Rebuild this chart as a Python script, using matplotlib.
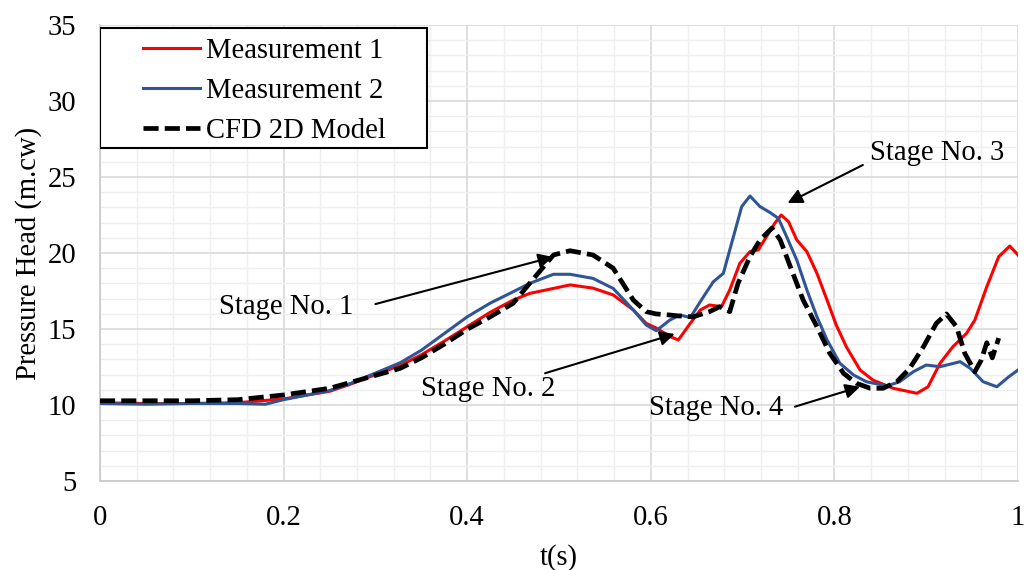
import matplotlib
matplotlib.use('Agg')
import matplotlib.pyplot as plt
from matplotlib.patches import Rectangle
from matplotlib.ticker import MultipleLocator

plt.rcParams['font.family'] = ['Liberation Serif', 'DejaVu Serif']

# Measurement 1 (red)
t_m1 = [0, 0.05, 0.1, 0.15, 0.2, 0.25, 0.272, 0.3, 0.327, 0.35, 0.375, 0.4, 0.425,
        0.45, 0.468, 0.494, 0.512, 0.537, 0.559, 0.581, 0.595, 0.606, 0.621, 0.630,
        0.643, 0.654, 0.664, 0.677, 0.686, 0.697, 0.708, 0.717, 0.726, 0.735, 0.742,
        0.75, 0.759, 0.77, 0.781, 0.792, 0.802, 0.813, 0.828, 0.842, 0.864, 0.89,
        0.902, 0.915, 0.929, 0.944, 0.953, 0.966, 0.979, 0.991, 1.0]
p_m1 = [10.15, 10.1, 10.1, 10.15, 10.4, 10.9, 11.35, 12.0, 12.6, 13.3, 14.2, 15.15, 16.1,
        16.9, 17.34, 17.67, 17.9, 17.69, 17.24, 16.25, 15.37, 15.06, 14.5, 14.28,
        15.37, 16.25, 16.58, 16.47, 17.57, 19.32, 20.09, 20.2, 21.07, 21.95, 22.5,
        22.06, 20.86, 20.09, 18.66, 16.9, 15.26, 13.83, 12.3, 11.64, 11.1, 10.77,
        11.2, 12.74, 13.83, 14.72, 15.59, 17.78, 19.76, 20.46, 19.87]

# Measurement 2 (blue)
t_m2 = [0, 0.05, 0.1, 0.15, 0.18, 0.2, 0.25, 0.272, 0.3, 0.327, 0.35, 0.375, 0.4, 0.425,
        0.45, 0.468, 0.494, 0.512, 0.537, 0.559, 0.581, 0.595, 0.606, 0.621, 0.632,
        0.643, 0.655, 0.668, 0.679, 0.69, 0.699, 0.708, 0.719, 0.73, 0.739, 0.748,
        0.759, 0.77, 0.781, 0.792, 0.806, 0.821, 0.835, 0.857, 0.871, 0.886, 0.9,
        0.915, 0.937, 0.948, 0.962, 0.977, 0.99, 1.0]
p_m2 = [10.1, 10.05, 10.1, 10.1, 10.05, 10.35, 10.95, 11.4, 12.1, 12.78, 13.6, 14.7, 15.8, 16.7,
        17.45, 18.0, 18.6, 18.6, 18.33, 17.67, 16.25, 15.26, 14.89, 15.6, 15.92,
        15.75, 16.9, 18.1, 18.66, 21.07, 23.05, 23.75, 23.05, 22.66, 22.28, 21.07,
        19.54, 17.57, 15.8, 14.28, 12.74, 11.97, 11.53, 11.25, 11.53, 12.19, 12.63,
        12.52, 12.85, 12.41, 11.53, 11.2, 11.86, 12.3]

# CFD 2D model (dashed)
t_cfd = [0, 0.1, 0.15, 0.2, 0.25, 0.272, 0.3, 0.327, 0.35, 0.375, 0.4, 0.425, 0.45,
         0.468, 0.494, 0.512, 0.537, 0.559, 0.581, 0.595, 0.606, 0.621, 0.630, 0.646,
         0.664, 0.675, 0.686, 0.695, 0.708, 0.719, 0.732, 0.741, 0.752, 0.766, 0.781,
         0.795, 0.81, 0.824, 0.839, 0.853, 0.868, 0.882, 0.897, 0.911, 0.922, 0.933,
         0.942, 0.953, 0.96, 0.966, 0.972, 0.979]
p_cfd = [10.28, 10.28, 10.35, 10.66, 11.1, 11.47, 11.95, 12.41, 13.1, 14.0, 14.98, 15.8, 16.69,
         18.0, 19.87, 20.15, 19.87, 19.0, 16.9, 16.14, 15.99, 15.92, 15.86, 15.8,
         16.14, 16.47, 16.14, 18.0, 19.76, 20.86, 21.64, 20.86, 19.1, 16.9, 15.15,
         13.4, 12.08, 11.43, 11.1, 11.1, 11.53, 12.41, 13.83, 15.37, 15.99, 15.15,
         13.4, 12.19, 12.96, 14.1, 13.1, 14.4]

# annotations: label, text position, arrow start, arrow tip
stages = [
    ("Stage No. 1", (0.203, 16.45), (0.300, 16.64), (0.4935, 19.74)),
    ("Stage No. 2", (0.4227, 11.05), (0.4848, 12.09), (0.626, 14.67)),
    ("Stage No. 3", (0.912, 26.58), (0.831, 25.79), (0.749, 23.29)),
    ("Stage No. 4", (0.671, 9.80), (0.757, 9.89), (0.828, 11.2)),
]

FS = 20.6

fig = plt.figure(figsize=(10.33, 5.70), dpi=100)
ax = fig.add_axes([100/1033, 89/570, 918/1033, 456/570])

ax.plot(t_m1, p_m1, color='#FF0000', lw=2.2, label='Measurement 1', zorder=3)
ax.plot(t_m2, p_m2, color='#2F5597', lw=2.2, label='Measurement 2', zorder=3)
ax.plot(t_cfd, p_cfd, color='black', lw=3.4, dashes=(3.2, 1.3), label='CFD 2D Model', zorder=4)

ax.set_xlim(0, 1)
ax.set_ylim(5, 35)
ax.xaxis.set_major_locator(MultipleLocator(0.2))
ax.xaxis.set_minor_locator(MultipleLocator(0.04))
ax.yaxis.set_major_locator(MultipleLocator(5))
ax.yaxis.set_minor_locator(MultipleLocator(1))
ax.set_xticks([0, 0.2, 0.4, 0.6, 0.8, 1.0], ['0', '0.2', '0.4', '0.6', '0.8', '1'])
ax.grid(which='major', color='#D9D9D9', lw=1.2, zorder=0)
ax.grid(which='minor', color='#EFEFEF', lw=1.0, zorder=0)
ax.set_axisbelow(True)
ax.tick_params(which='both', length=0, labelsize=FS)
ax.tick_params(axis='x', pad=17)
ax.tick_params(axis='y', pad=17)
for s in ['top', 'right']:
    ax.spines[s].set_visible(False)
for s in ['left', 'bottom']:
    ax.spines[s].set_color('#C8C8C8')
    ax.spines[s].set_linewidth(1.2)

ax.set_xlabel('t(s)', fontsize=FS, labelpad=10)
ax.set_ylabel('Pressure Head (m.cw)', fontsize=FS, labelpad=4)

for label, txy, start, tip in stages:
    ax.text(txy[0], txy[1], label, fontsize=FS, ha='center', va='center', zorder=6)
    ax.annotate('', xy=tip, xytext=start,
                arrowprops=dict(arrowstyle='-|>', color='black', lw=1.5,
                                mutation_scale=22, shrinkA=0, shrinkB=0), zorder=6)

# legend box
ax.add_patch(Rectangle((0, 0.730), 0.356, 0.263, transform=ax.transAxes,
                       facecolor='white', edgecolor='black', lw=1.5, zorder=5))
leg = ax.legend(loc='upper left', bbox_to_anchor=(0.047, 0.972), frameon=False,
                fontsize=FS, handlelength=2.0, handletextpad=0.2, labelspacing=0.5,
                borderpad=0, borderaxespad=0)
leg.set_zorder(6)

fig.savefig('out.png', dpi=100)
